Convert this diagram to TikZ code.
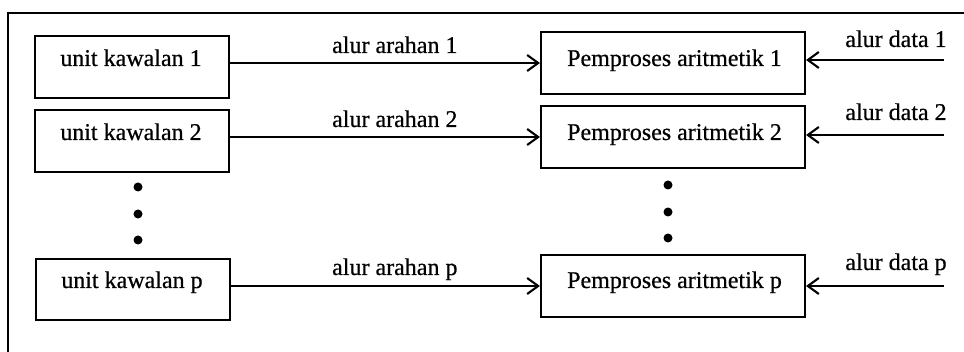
\documentclass[tikz,border=0pt]{standalone}
\usepackage{fontspec}
\setmainfont{Liberation Serif}[FakeBold=0.6]
\usetikzlibrary{arrows.meta}
\begin{document}
\begin{tikzpicture}[x=1pt,y=-1pt,
  box/.style={draw,line width=2.1pt,inner sep=0pt},
  ubox/.style={box,minimum width=194pt,minimum height=62pt},
  pbox/.style={box,minimum width=264pt,minimum height=62pt},
  txt/.style={font=\fontsize{24}{28}\selectfont,inner sep=0pt,anchor=base},
  lbl/.style={font=\fontsize{24}{28}\selectfont,inner sep=0pt},
  arr/.style={line width=2.1pt,-{Straight Barb[length=11pt,width=16pt,line width=2.1pt]}},
  dot/.style={circle,fill,inner sep=0pt,minimum size=9pt}]
\useasboundingbox (0,0) rectangle (964,352);
% frame
\coordinate (fb) at (8,353);
\coordinate (ftl) at (8,13);
\coordinate (fr) at (965,13);
\draw[line width=2.1pt] (fb) -- (ftl) -- (fr);
% left boxes
\node[ubox] (u1) at (132,67) {};
\node[ubox] (u2) at (132,141) {};
\node[ubox,minimum height=61pt] (up) at (133,289.5) {};
\node[txt] (tu1) at (131,66) {unit kawalan 1};
\node[txt] (tu2) at (131,140) {unit kawalan 2};
\node[txt] (tup) at (132,288) {unit kawalan p};
% right boxes
\node[pbox] (p1) at (673,63) {};
\node[pbox] (p2) at (673,137) {};
\node[pbox] (pp) at (673,286) {};
\node[txt] (tp1) at (674.5,66) {Pemproses aritmetik 1};
\node[txt] (tp2) at (674.5,140) {Pemproses aritmetik 2};
\node[txt] (tpp) at (674.5,288) {Pemproses aritmetik p};
% dots
\node[dot] (ld1) at (138,187) {};
\node[dot] (ld2) at (138,214) {};
\node[dot] (ld3) at (138,240) {};
\node[dot] (rd1) at (668,185) {};
\node[dot] (rd2) at (668,212) {};
\node[dot] (rd3) at (668,238) {};
% control arrows
\draw[arr] (u1.east |- p1.west) -- (p1.west);
\draw[arr] (u2.east |- p2.west) -- (p2.west);
\draw[arr] (up.east |- pp.west) -- (pp.west);
\node[lbl,anchor=base west] (a1) at (332,53) {alur arahan 1};
\node[lbl,anchor=base west] (a2) at (332,127) {alur arahan 2};
\node[lbl,anchor=base west] (ap) at (332,275) {alur arahan p};
% data arrows
\coordinate (d1) at (944,60);
\coordinate (d2) at (944,135);
\coordinate (dp) at (944,286);
\draw[arr] (d1) -- (d1 -| p1.east);
\draw[arr] (d2) -- (d2 -| p2.east);
\draw[arr] (dp) -- (dp -| pp.east);
\node[lbl,anchor=base] (l1) at (896,47) {alur data 1};
\node[lbl,anchor=base] (l2) at (896,120) {alur data 2};
\node[lbl,anchor=base] (lp) at (896,270) {alur data p};
\end{tikzpicture}
\end{document}
